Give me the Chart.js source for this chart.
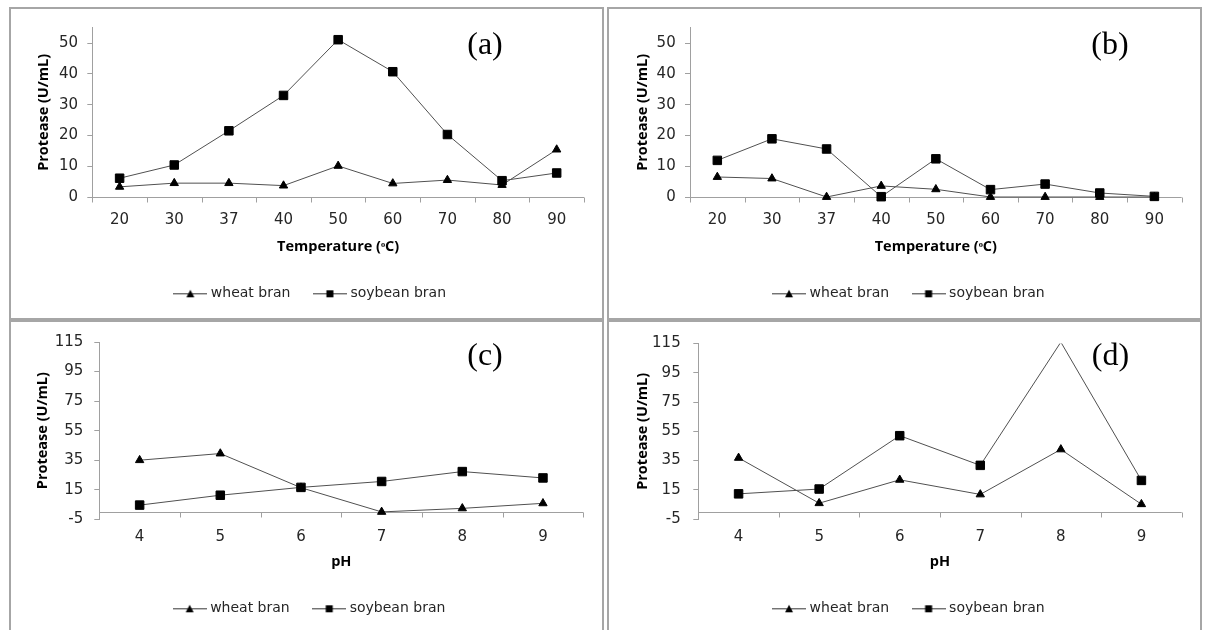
<!DOCTYPE html>
<html>
<head>
<meta charset="utf-8">
<title>Protease production</title>
<script src="https://cdn.jsdelivr.net/npm/chart.js@4.4.1/dist/chart.umd.min.js"></script>
<style>
  html, body { margin: 0; padding: 0; background: #fff; width: 1207px; height: 630px; overflow: hidden; }
  .panel { position: absolute; box-sizing: border-box; border: 2px solid #a6a6a6; background: #fff; }
  .panel canvas { position: absolute; left: 0; top: 0; }
</style>
</head>
<body>
<div class="panel" id="pa"><canvas></canvas></div>
<div class="panel" id="pb"><canvas></canvas></div>
<div class="panel" id="pc"><canvas></canvas></div>
<div class="panel" id="pd"><canvas></canvas></div>
<script>
// ---- data ----
const temperatureLabels = ['20', '30', '37', '40', '50', '60', '70', '80', '90'];
const phLabels = ['4', '5', '6', '7', '8', '9'];

const wheatTempA   = [3.3, 4.5, 4.5, 3.7, 10.1, 4.4, 5.5, 3.9, 15.4];
const soybeanTempA = [6.1, 10.4, 21.5, 33.0, 51.1, 40.7, 20.3, 5.3, 7.8];

const wheatTempB   = [6.5, 6.0, 0, 3.6, 2.5, 0, 0, 0, 0];
const soybeanTempB = [11.9, 18.9, 15.6, 0.1, 12.4, 2.4, 4.2, 1.3, 0.2];

const wheatPhC   = [35.0, 39.5, 16.4, 0, 2.4, 5.8];
const soybeanPhC = [4.6, 11.3, 16.6, 20.6, 27.3, 23.0];

const wheatPhD   = [36.8, 5.8, 21.8, 11.8, 42.6, 5.1];
const soybeanPhD = [12.2, 15.5, 52.0, 31.7, 116.0, 21.4];

// y axis range and tick step: [min, max, step]
const temperatureAxis = [0, 55, 10];
const phAxis = [-5, 115, 20];

const seriesNames = ['wheat bran', 'soybean bran'];
const yTitle = 'Protease (U/mL)';
const temperatureTitle = 'Temperature (\u1D52C)';
const phTitle = 'pH';

// ---- styles ----
const AXIS_GRAY = '#a0a0a0';
const LINE_GRAY = '#505050';
const TEXT = '#262626';
const FONT = 'DejaVu Sans';
const TITLE_FONT = 'Open Sans';
const TICK_SIZE = 15;
const TITLE_SIZE = 14.5;
const LEGEND_SIZE = 14;
const LEGEND_PAD = 26;
const ICON_W = 34, ICON_BOX = 27;

Chart.defaults.font.family = FONT;

function legendIcon(kind) {
  const c = document.createElement('canvas');
  c.width = ICON_W; c.height = 14;
  const g = c.getContext('2d');
  g.strokeStyle = '#333'; g.lineWidth = 1;
  g.beginPath(); g.moveTo(0, 7.5); g.lineTo(ICON_W, 7.5); g.stroke();
  g.fillStyle = '#000';
  if (kind === 'triangle') {
    g.beginPath(); g.moveTo(17, 3.5); g.lineTo(21, 11); g.lineTo(13, 11); g.closePath(); g.fill();
  } else {
    g.fillRect(13.5, 4, 7, 7);
  }
  return c;
}
const icons = { triangle: legendIcon('triangle'), rect: legendIcon('rect') };

// horizontal axis drawn through y = 0 with outward tick marks between categories
const zeroAxis = {
  id: 'zeroAxis',
  beforeDatasetsDraw(chart) {
    const { ctx, chartArea: area, scales: { x, y } } = chart;
    const y0 = Math.round(y.getPixelForValue(0)) + 0.5;
    const n = chart.data.labels.length;
    ctx.save();
    ctx.strokeStyle = AXIS_GRAY; ctx.lineWidth = 1;
    ctx.beginPath();
    ctx.moveTo(area.left, y0); ctx.lineTo(area.right, y0);
    for (let i = 0; i <= n; i++) {
      const px = Math.round(x.getPixelForDecimal(i / n)) + 0.5;
      ctx.moveTo(px, y0); ctx.lineTo(px, y0 + 5);
    }
    ctx.stroke();
    ctx.restore();
  }
};

// panel letter, e.g. "(a)"
const panelTag = {
  id: 'panelTag',
  afterDraw(chart, args, opts) {
    if (!opts || !opts.text) return;
    const ctx = chart.ctx;
    ctx.save();
    ctx.font = '32px "Liberation Serif"';
    ctx.fillStyle = '#000';
    ctx.textAlign = 'center';
    ctx.textBaseline = 'alphabetic';
    ctx.fillText(opts.text, opts.x, opts.y);
    ctx.restore();
  }
};

function drawPanel(spec) {
  const box = document.getElementById(spec.id);
  const [bx, by, bw, bh] = spec.box;
  Object.assign(box.style, { left: bx + 'px', top: by + 'px', width: bw + 'px', height: bh + 'px' });
  const ox = bx + 2, oy = by + 2, cw = bw - 4, ch = bh - 4;
  const canvas = box.querySelector('canvas');
  canvas.width = cw; canvas.height = ch;
  canvas.style.width = cw + 'px'; canvas.style.height = ch + 'px';

  const plot = {
    left: spec.plot[0] - ox, right: spec.plot[1] - ox,
    top: spec.plot[2] - oy, bottom: spec.plot[3] - oy
  };
  const padRight = cw - plot.right;
  const overflow = (ICON_W - ICON_BOX) / 2;
  const padLeft = 2 * (spec.legendX - ox + overflow / 2) - cw + padRight;
  const legendTop = spec.legendY - oy - LEGEND_PAD - LEGEND_SIZE / 2;
  const legendHeight = LEGEND_SIZE + LEGEND_PAD + 10;
  const padBottom = ch - legendTop - legendHeight;
  const yWidth = plot.left - padLeft;
  const xHeight = legendTop - plot.bottom;
  const tickLine = TICK_SIZE * 1.2, titleLine = TITLE_SIZE * 1.2;
  const xTickPad = spec.xLabelY - oy - plot.bottom - tickLine / 2;
  const xTitlePad = legendTop - (spec.xTitleY - oy) - titleLine / 2;
  const yTickPad = plot.left - 5 - (spec.yLabelRight - ox);
  const yTitlePad = (spec.yTitleX - ox) - padLeft - titleLine / 2;
  const [yMin, yMax, yStep] = spec.axis;
  const titleFont = { family: TITLE_FONT, size: TITLE_SIZE, weight: 'bold' };

  const radius = (r) => (c) => (c.raw > yMax ? 0 : r);

  new Chart(canvas, {
    type: 'line',
    data: {
      labels: spec.labels,
      datasets: [
        { label: seriesNames[0], data: spec.wheat, pointStyle: 'triangle', order: 1,
          pointRadius: radius(4.8), pointHoverRadius: radius(4.8) },
        { label: seriesNames[1], data: spec.soybean, pointStyle: 'rect', order: 0,
          pointRadius: radius(6), pointHoverRadius: radius(6) }
      ].map(d => Object.assign(d, {
        borderColor: LINE_GRAY, borderWidth: 1, tension: 0, fill: false,
        pointBackgroundColor: '#000', pointBorderColor: '#000', pointBorderWidth: 1,
        clip: { left: 10, right: 10, top: 0, bottom: 10 }
      }))
    },
    options: {
      responsive: false, animation: false, devicePixelRatio: 1,
      events: [],
      layout: { padding: { left: padLeft, right: padRight, top: plot.top, bottom: padBottom } },
      scales: {
        x: {
          type: 'category', offset: true,
          grid: { display: false, drawTicks: false }, border: { display: false },
          ticks: { font: { size: TICK_SIZE }, color: TEXT, padding: xTickPad, maxRotation: 0, autoSkip: false },
          title: { display: true, text: spec.xTitle, color: '#000',
                   font: titleFont, padding: { top: 0, bottom: xTitlePad } },
          afterFit: (s) => { s.height = xHeight; }
        },
        y: {
          type: 'linear', bounds: 'data', min: yMin, max: yMax,
          grid: { display: true, drawOnChartArea: false, drawTicks: true, tickLength: 5, color: AXIS_GRAY },
          border: { display: true, color: AXIS_GRAY, width: 1 },
          ticks: { stepSize: yStep, includeBounds: false, font: { size: TICK_SIZE }, color: TEXT, padding: yTickPad },
          title: { display: true, text: yTitle, color: '#000',
                   font: titleFont, padding: { top: yTitlePad, bottom: 0 } },
          afterBuildTicks: (s) => {
            s.ticks = s.ticks.filter(t => Math.abs(((t.value - yMin) / yStep) - Math.round((t.value - yMin) / yStep)) < 1e-6);
          },
          afterFit: (s) => { s.width = yWidth; }
        }
      },
      plugins: {
        legend: {
          position: 'bottom',
          labels: {
            usePointStyle: true, pointStyleWidth: ICON_BOX, padding: LEGEND_PAD,
            font: { size: LEGEND_SIZE }, color: TEXT,
            generateLabels: (chart) => chart.data.datasets.map((d, i) => ({
              text: d.label, pointStyle: icons[d.pointStyle], fillStyle: '#000',
              strokeStyle: '#000', lineWidth: 0, hidden: false, datasetIndex: i, fontColor: TEXT
            }))
          }
        },
        tooltip: { enabled: false },
        panelTag: { text: spec.tag, x: spec.tagX - ox, y: spec.tagY - oy }
      }
    },
    plugins: [zeroAxis, panelTag]
  });
}

const panels = [
  { id: 'pa', box: [9, 7, 595, 313], plot: [92.3, 584, 27.7, 197],
    labels: temperatureLabels, wheat: wheatTempA, soybean: soybeanTempA, axis: temperatureAxis, xTitle: temperatureTitle,
    yTitleX: 44, yLabelRight: 78, xLabelY: 220, xTitleY: 246.7, legendX: 309.7, legendY: 293.3,
    tag: '(a)', tagX: 485, tagY: 54.3 },
  { id: 'pb', box: [607, 7, 595, 313], plot: [690, 1181.7, 27.7, 197],
    labels: temperatureLabels, wheat: wheatTempB, soybean: soybeanTempB, axis: temperatureAxis, xTitle: temperatureTitle,
    yTitleX: 642.5, yLabelRight: 675.7, xLabelY: 220, xTitleY: 246.7, legendX: 908.4, legendY: 293.3,
    tag: '(b)', tagX: 1110, tagY: 54.3 },
  { id: 'pc', box: [9, 320, 595, 322], plot: [99.3, 583.3, 341.7, 519.3],
    labels: phLabels, wheat: wheatPhC, soybean: soybeanPhC, axis: phAxis, xTitle: phTitle,
    yTitleX: 42.5, yLabelRight: 83.3, xLabelY: 536.7, xTitleY: 561.7, legendX: 309, legendY: 608.3,
    tag: '(c)', tagX: 485, tagY: 365 },
  { id: 'pd', box: [607, 320, 595, 322], plot: [698.3, 1181.7, 341, 519],
    labels: phLabels, wheat: wheatPhD, soybean: soybeanPhD, axis: phAxis, xTitle: phTitle,
    yTitleX: 643.3, yLabelRight: 680.7, xLabelY: 536.7, xTitleY: 561.7, legendX: 908.4, legendY: 608.3,
    tag: '(d)', tagX: 1110.5, tagY: 365.3 }
];

panels.forEach(drawPanel);
</script>
</body>
</html>
